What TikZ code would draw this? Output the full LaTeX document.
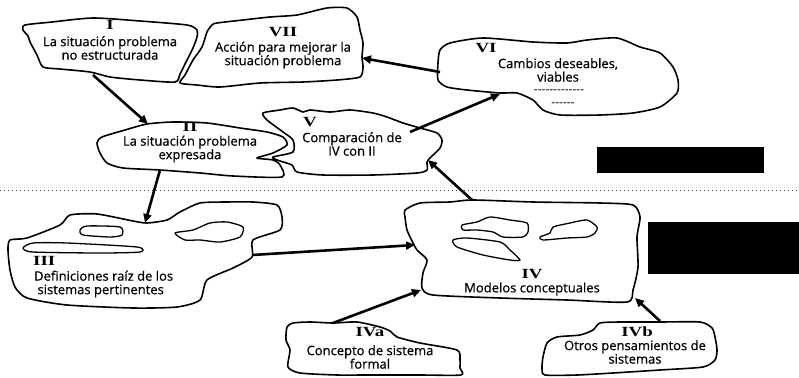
\documentclass[tikz,border=0pt]{standalone}
\usepackage{fontspec}
\setmainfont{Open Sans}[FakeBold=0.6]
\newfontfamily\numfont{Liberation Serif}[FakeStretch=1.35]
\newfontfamily\hyphenfont{Open Sans}[Ligatures=TeXOff]
\usetikzlibrary{arrows.meta}
\begin{document}
\begin{tikzpicture}[x=1pt,y=-1pt,
  cloud/.style={draw=black, line width=1.6pt, line join=round, fill=white},
  blob/.style={draw=black, line width=1.3pt, line join=round},
  conn/.style={draw=black, line width=2.6pt, -{Triangle[length=9pt,width=8pt]}},
  numeral/.style={inner sep=0pt, font=\numfont\bfseries\fontsize{14}{14}\selectfont},
  body/.style={inner sep=0pt, align=center, font=\fontsize{13}{13.5}\selectfont},
  bodyleft/.style={inner sep=0pt, align=left, anchor=west, font=\fontsize{13}{13.5}\selectfont},
  rule/.style={inner sep=0pt, font=\hyphenfont\fontsize{12}{12}\selectfont},
  divider/.style={draw=black!70, line width=0.9pt, dash pattern=on 1.2pt off 2.8pt},
  mask/.style={fill=black}]
\useasboundingbox (0,0) rectangle (799,377);

% upper / lower half divider
\draw[divider] (0,190) -- (799,190);

% blacked-out captions on the right
\fill[mask] (597,147) rectangle (764,173);
\fill[mask] (648,222) rectangle (799,274);

% ---- cloud outlines ----
% I
\draw[cloud] plot[smooth cycle, tension=0.4] coordinates {
  (23,30) (25,25) (52,22) (93,18) (140,21) (187,25) (197,30) (197,37) (193,48)
  (186,62) (180,74) (175,82) (140,80) (110,77) (90,72) (60,69) (43,67) (37,55) (30,42) (28,36)};
% VII
\draw[cloud] plot[smooth cycle, tension=0.4] coordinates {
  (180,83) (185,75) (193,60) (202,47) (207,32) (212,25) (217,23) (243,20) (270,17)
  (297,15) (327,8) (347,8) (357,17) (360,30) (363,43) (362,57) (363,67) (360,77)
  (337,80) (303,82) (260,83) (220,87) (197,85)};
% VI
\draw[cloud] plot[smooth cycle, tension=0.4] coordinates {
  (440,50) (450,43) (483,38) (533,42) (567,43) (587,40) (617,38) (640,47) (660,53)
  (673,67) (678,80) (677,93) (660,107) (633,113) (600,115) (560,115) (543,110)
  (533,100) (517,93) (500,93) (467,90) (447,87) (438,80) (438,63)};
% II
\draw[cloud] plot[smooth cycle, tension=0.4] coordinates {
  (97,143) (102,137) (125,130) (147,124) (173,122) (207,123) (240,128) (267,132)
  (283,137) (287,145) (273,153) (257,158) (273,160) (280,165) (282,177) (233,176)
  (200,173) (160,170) (123,168) (107,163) (100,153)};
% V
\draw[cloud] plot[smooth cycle, tension=0.4] coordinates {
  (263,113) (280,110) (293,108) (303,112) (310,110) (330,112) (350,110) (373,113)
  (387,117) (403,123) (420,128) (437,133) (442,140) (440,148) (430,158) (427,162)
  (427,170) (417,173) (373,175) (323,175) (297,172) (292,165) (277,160) (273,157)
  (293,152) (293,140) (283,132) (267,120)};
% III with its inner shapes
\draw[cloud] plot[smooth cycle, tension=0.4] coordinates {
  (8,250) (10,240) (27,238) (60,225) (70,215) (97,214) (133,221) (147,223) (167,220)
  (180,212) (200,203) (227,202) (253,202) (277,205) (282,217) (280,230) (253,240)
  (252,257) (233,268) (207,280) (200,300) (177,307) (133,308) (67,305) (27,298)
  (15,287) (10,270)};
\draw[blob] plot[smooth cycle, tension=0.4] coordinates {
  (80,230) (87,226) (120,227) (122,235) (110,237) (83,235)};
\draw[blob] plot[smooth cycle, tension=0.4] coordinates {
  (23,248) (33,243) (67,243) (137,247) (140,252) (100,253) (33,252)};
\draw[blob] plot[smooth cycle, tension=0.4] coordinates {
  (175,233) (193,230) (210,223) (227,222) (243,227) (240,237) (220,242) (200,240) (185,240)};
% IV with its inner shapes
\draw[cloud] plot[smooth cycle, tension=0.4] coordinates {
  (405,210) (420,203) (450,202) (473,200) (533,202) (600,203) (633,205) (640,217)
  (637,237) (638,267) (633,290) (627,302) (567,300) (500,298) (433,295) (422,288)
  (423,273) (427,260) (417,250) (413,243) (407,230) (405,217)};
\draw[blob] plot[smooth cycle, tension=0.4] coordinates {
  (462,225) (477,222) (490,217) (510,220) (527,223) (528,232) (523,237) (503,237)
  (493,232) (477,230) (463,230)};
\draw[blob] plot[smooth cycle, tension=0.4] coordinates {
  (453,240) (467,238) (500,242) (510,250) (520,260) (510,260) (483,255) (457,247)};
\draw[blob] plot[smooth cycle, tension=0.4] coordinates {
  (540,237) (550,233) (553,227) (570,223) (587,220) (597,227) (595,233) (587,237)
  (567,238) (543,240)};
% IVa
\draw[cloud] plot[smooth cycle, tension=0.4] coordinates {
  (287,327) (293,323) (310,322) (333,323) (357,322) (380,327) (390,331) (397,337)
  (420,343) (457,350) (460,360) (460,368) (461,375) (420,375) (367,375) (337,375)
  (300,373) (288,367) (290,350) (286,340)};
% IVb
\draw[cloud] plot[smooth cycle, tension=0.4] coordinates {
  (543,357) (547,343) (557,337) (580,335) (593,330) (600,323) (620,322) (660,322)
  (700,322) (712,328) (715,337) (717,350) (715,360) (703,367) (660,370) (613,373)
  (577,375) (545,375) (542,368)};

% ---- labels ----
\node[numeral] (nI)   at (110,25)  {I};
\node[body]    (tI)   at (110,48)  {La situación problema\\no estructurada};
\node[numeral] (nVII) at (283,32)  {VII};
\node[body]    (tVII) at (283,55)  {Acción para mejorar la\\situación problema};
\node[numeral] (nVI)  at (486,48)  {VI};
\node[body]    (tVI)  at (558,70)  {Cambios deseables,\\viables};
\node[rule]    (dVIa) at (559,92)  {-------------};
\node[rule]    (dVIb) at (563,105) {------};
\node[numeral] (nII)  at (190,127) {II};
\node[body]    (tII)  at (190,149) {La situación problema\\expresada};
\node[numeral] (nV)   at (310,122) {V};
\node[body]    (tV)   at (352,144) {Comparación de\\IV con II};
\node[numeral, anchor=west] (nIII) at (33,261) {III};
\node[bodyleft] (tIII) at (34,284) {Definiciones raíz de los\\\ sistemas pertinentes};
\node[numeral] (nIV)  at (532,274) {IV};
\node[body]    (tIV)  at (532,289) {Modelos conceptuales};
\node[numeral] (nIVa) at (370,332) {IVa};
\node[body]    (tIVa) at (370,357) {Concepto de sistema\\formal};
\node[numeral] (nIVb) at (637,332) {IVb};
\node[body]    (tIVb) at (635,352) {Otros pensamientos de\\sistemas};

% ---- connector end points on the outlines ----
\coordinate (I-out)   at (93,75);
\coordinate (II-in)   at (148,124);
\coordinate (II-out)  at (160,170);
\coordinate (III-in)  at (145,223);
\coordinate (III-out) at (252,255);
\coordinate (IV-inL)  at (415,245);
\coordinate (IVa-out) at (333,323);
\coordinate (IV-inA)  at (421,290);
\coordinate (IVb-out) at (660,321);
\coordinate (IV-inB)  at (635,298);
\coordinate (IV-out)  at (472,200);
\coordinate (V-in)    at (428,160);
\coordinate (V-out)   at (410,132);
\coordinate (VI-in)   at (500,94);
\coordinate (VI-out)  at (440,72);
\coordinate (VII-in)  at (362,58);

% ---- connectors ----
\draw[conn] (I-out)   -- (II-in);
\draw[conn] (II-out)  -- (III-in);
\draw[conn] (III-out) -- (IV-inL);
\draw[conn] (IVa-out) -- (IV-inA);
\draw[conn] (IVb-out) -- (IV-inB);
\draw[conn] (IV-out)  -- (V-in);
\draw[conn] (V-out)   -- (VI-in);
\draw[conn] (VI-out)  -- (VII-in);
\end{tikzpicture}
\end{document}
